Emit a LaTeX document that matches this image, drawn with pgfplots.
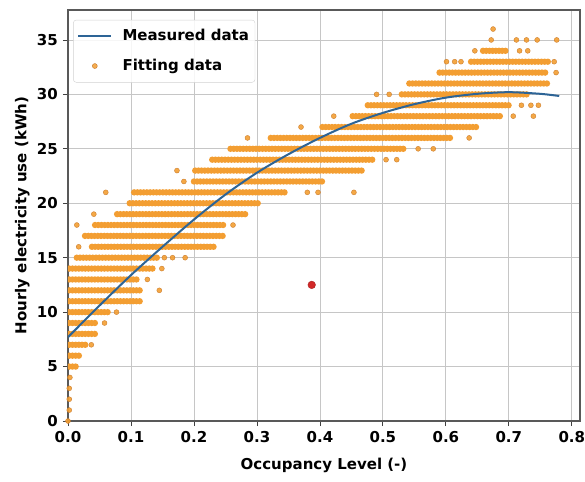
\documentclass[border=0pt]{standalone}
\usepackage{fontspec}
\setmainfont{DejaVu Sans}
\usepackage{pgfplots}
\pgfplotsset{compat=1.18}
\definecolor{orng}{RGB}{243,158,50}
\definecolor{orngedge}{RGB}{200,120,40}
\definecolor{curveblue}{RGB}{45,100,150}
\definecolor{redpt}{RGB}{210,40,40}
\pgfplotsset{
  row/.style={forget plot, draw=orng, line width=6.4pt, line cap=round, dash pattern=on 0pt off 3.2pt, mark=none},
  dots/.style={only marks, mark=*, mark size=2.5pt, mark options={fill=orng, draw=orngedge, line width=0.4pt}, opacity=0.9},
}
\newcommand{\tf}{\fontsize{15}{18}\selectfont\bfseries}
\begin{document}
\tf
\begin{tikzpicture}
\begin{axis}[
  at={(0pt,0pt)}, anchor=south west,
  scale only axis, width=512pt, height=411pt,
  xmin=0, xmax=0.813, ymin=0, ymax=37.75,
  xtick={0,0.1,0.2,0.3,0.4,0.5,0.6,0.7,0.8},
  ytick={0,5,10,15,20,25,30,35},
  xticklabel style={/pgf/number format/.cd, fixed, fixed zerofill, precision=1},
  /pgf/number format/assume math mode=true,
  tick pos=left,
  tick align=outside, major tick length=5pt,
  tick style={black!75, line width=0.8pt},
  axis line style={black!65, line width=1.4pt},
  grid=major, major grid style={gray!45, line width=0.8pt},
  xlabel={Occupancy Level (-)}, ylabel={Hourly electricity use (kWh)},
  label style={font=\tf},
  xlabel style={yshift=-5pt},
  ylabel style={yshift=-3pt},
  tick label style={font=\tf},
  legend style={at={(0.01,0.976)}, anchor=north west, draw=gray!35, rounded corners=3pt,
    fill=white, fill opacity=0.85, text opacity=1, font=\tf, row sep=12pt,
    inner xsep=4pt, inner ysep=7.5pt},
  legend cell align=left,
]
\addlegendimage{legend image code/.code={\draw[curveblue, line width=2pt] (0pt,0pt) -- (33pt,0pt); \path (42pt,0pt);}}
\addlegendentry{Measured data}
\addlegendimage{legend image code/.code={\draw[mark repeat=2, mark phase=2, draw=none, mark=*, mark size=2.5pt, mark options={fill=orng, draw=orngedge, line width=0.4pt}] plot coordinates {(0pt,0pt) (16.5pt,0pt) (33pt,0pt)}; \path (42pt,0pt);}}
\addlegendentry{Fitting data}

% dense rows of fitting data (x range per integer level)
\addplot[row] coordinates {(0.002,5) (0.014,5)};
\addplot[row] coordinates {(0.002,6) (0.018,6)};
\addplot[row] coordinates {(0.002,7) (0.030,7)};
\addplot[row] coordinates {(0.002,8) (0.043,8)};
\addplot[row] coordinates {(0.002,9) (0.045,9)};
\addplot[row] coordinates {(0.002,10) (0.068,10)};
\addplot[row] coordinates {(0.002,11) (0.115,11)};
\addplot[row] coordinates {(0.002,12) (0.118,12)};
\addplot[row] coordinates {(0.002,13) (0.112,13)};
\addplot[row] coordinates {(0.002,14) (0.136,14)};
\addplot[row] coordinates {(0.014,15) (0.145,15)};
\addplot[row] coordinates {(0.038,16) (0.232,16)};
\addplot[row] coordinates {(0.027,17) (0.248,17)};
\addplot[row] coordinates {(0.043,18) (0.248,18)};
\addplot[row] coordinates {(0.078,19) (0.284,19)};
\addplot[row] coordinates {(0.098,20) (0.305,20)};
\addplot[row] coordinates {(0.105,21) (0.348,21)};
\addplot[row] coordinates {(0.200,22) (0.405,22)};
\addplot[row] coordinates {(0.202,23) (0.468,23)};
\addplot[row] coordinates {(0.229,24) (0.488,24)};
\addplot[row] coordinates {(0.258,25) (0.534,25)};
\addplot[row] coordinates {(0.322,26) (0.609,26)};
\addplot[row] coordinates {(0.404,27) (0.649,27)};
\addplot[row] coordinates {(0.452,28) (0.688,28)};
\addplot[row] coordinates {(0.476,29) (0.700,29)};
\addplot[row] coordinates {(0.530,30) (0.730,30)};
\addplot[row] coordinates {(0.542,31) (0.762,31)};
\addplot[row] coordinates {(0.590,32) (0.758,32)};
\addplot[row] coordinates {(0.640,33) (0.762,33)};
\addplot[row] coordinates {(0.659,34) (0.695,34)};

% isolated fitting data points
\addplot[dots, forget plot] coordinates {
 (0,0) (0.002,1) (0.002,2) (0.002,3) (0.003,4)
 (0.037,7) (0.058,9) (0.077,10) (0.145,12) (0.126,13) (0.149,14)
 (0.153,15) (0.166,15) (0.186,15)
 (0.017,16) (0.014,18) (0.262,18) (0.041,19)
 (0.060,21) (0.380,21) (0.397,21) (0.454,21)
 (0.184,22) (0.173,23)
 (0.505,24) (0.522,24)
 (0.556,25) (0.580,25)
 (0.285,26) (0.637,26)
 (0.370,27)
 (0.422,28) (0.707,28) (0.739,28)
 (0.720,29) (0.735,29) (0.747,29)
 (0.490,30) (0.510,30)
 (0.775,32)
 (0.601,33) (0.614,33) (0.624,33) (0.772,33)
 (0.646,34) (0.717,34) (0.730,34)
 (0.672,35) (0.712,35) (0.728,35) (0.745,35) (0.776,35)
 (0.675,36)
};

% measured data curve
\addplot[forget plot, curveblue, line width=2pt, smooth, mark=none] coordinates {
 (0,7.7) (0.05,10.6) (0.1,13.4) (0.15,16.0) (0.2,18.5) (0.25,20.8) (0.3,22.8)
 (0.35,24.5) (0.4,26.0) (0.45,27.3) (0.5,28.3) (0.55,29.1) (0.6,29.7)
 (0.65,30.05) (0.7,30.2) (0.75,30.05) (0.78,29.85)
};

% red point
\addplot[forget plot, only marks, mark=*, mark size=3.8pt, mark options={fill=redpt, draw=redpt!80!black}] coordinates {(0.387,12.5)};
\end{axis}
\pgfresetboundingbox
\path[use as bounding box] (-68pt,-60pt) rectangle (517pt,421pt);
\end{tikzpicture}
\end{document}
